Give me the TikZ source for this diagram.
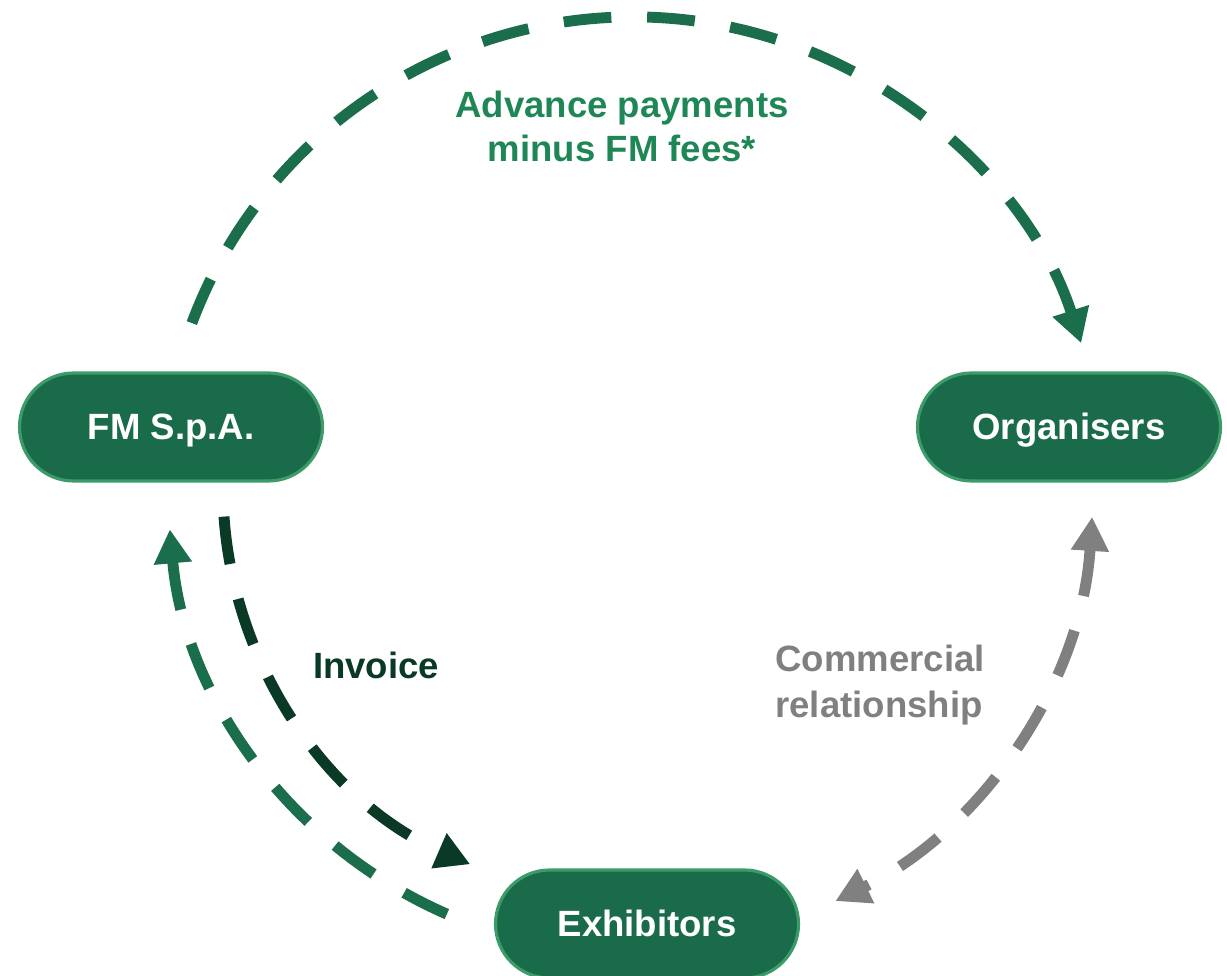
\documentclass[tikz,border=0pt]{standalone}
\usepackage{fontspec}
\setmainfont{Liberation Sans}
\usepackage{xcolor}
\usepackage{tikz}
\usetikzlibrary{arrows.meta}
\definecolor{boxfill}{RGB}{26, 107, 74}
\definecolor{boxline}{RGB}{60, 155, 105}
\definecolor{flow}{RGB}{27, 110, 76}
\definecolor{label}{RGB}{31, 135, 86}
\definecolor{invoice}{RGB}{10, 58, 38}
\definecolor{relation}{RGB}{128, 128, 128}

\tikzset{
  party/.style={fill=boxfill, draw=boxline, line width=0.9pt, rounded corners=0.54cm,
    minimum width=3.03cm, minimum height=1.08cm, text=white,
    text height=0.72em, text depth=0pt,
    font=\fontsize{10.4}{12.5}\selectfont\bfseries},
  dashflow/.style={line width=3.1pt, dash pattern=on 13.6pt off 10.2pt},
  tip/.style={-{Triangle[length=0.34cm, width=0.36cm]}},
  flowtext/.style={font=\fontsize{10.4}{12.5}\selectfont\bfseries}
}

\begin{document}
\begin{tikzpicture}
\useasboundingbox (0,0) rectangle (12.27,9.76);
\coordinate (hub) at (6.33,4.88);

\node[party] (fm) at (1.71,5.49) {FM S.p.A.};
\node[party] (org) at (10.69,5.49) {Organisers};
\node[party] (exh) at (6.47,0.52) {Exhibitors};

% payments from FM to the organisers
\draw[flow,dashflow,tip] ([shift={(159.5:4.71)}]hub) arc[start angle=159.5, end angle=17.9, radius=4.71];
% invoice down to the exhibitors, payments back up to FM
\draw[invoice,dashflow,tip] ([shift={(184:4.1)}]hub) arc[start angle=184, end angle=246.6, radius=4.1];
\draw[flow,dashflow,tip] ([shift={(246.4:4.65)}]hub) arc[start angle=246.4, end angle=185.1, radius=4.65];
% organisers and exhibitors
\draw[relation,dashflow,{Triangle[length=0.34cm, width=0.36cm]}-{Triangle[length=0.34cm, width=0.36cm]}]
  ([shift={(-3.6:4.6)}]hub) arc[start angle=-3.6, end angle=-63.9, radius=4.6];

\node[flowtext,text=label,align=center] (adv) at (6.22,8.50) {Advance payments\\minus FM fees*};
\node[flowtext,text=invoice] (inv) at (3.76,3.11) {Invoice};
\node[flowtext,text=relation,align=left,anchor=west,font=\fontsize{10.4}{13}\selectfont\bfseries] (rel) at (7.63,2.91) {Commercial\\relationship};
\end{tikzpicture}
\end{document}
